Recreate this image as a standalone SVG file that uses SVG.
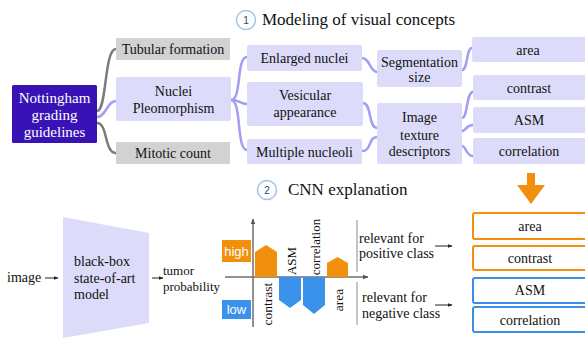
<svg xmlns="http://www.w3.org/2000/svg" width="585" height="342" viewBox="0 0 585 342">
<defs>
<marker id="ah" viewBox="0 0 10 10" refX="9" refY="5" markerWidth="5" markerHeight="5" orient="auto"><path d="M0,1 L10,5 L0,9 z" fill="#222"/></marker>
<marker id="ahg" viewBox="0 0 10 10" refX="9" refY="5" markerWidth="4" markerHeight="4" orient="auto"><path d="M0,1 L10,5 L0,9 z" fill="#555"/></marker>
</defs>
<style>
.t{font-family:'Liberation Serif','Times New Roman',Tinos,'DejaVu Serif',serif;fill:#111;font-size:14px}
.c{text-anchor:middle}
.lav{fill:#dcdcfa}
.gry{fill:#d2d2d2}
.cl{fill:none;stroke:#a69cf2;stroke-width:2.5}
.cg{fill:none;stroke:#7c7c7c;stroke-width:2.5}
.num{fill:#fff;stroke:#a5c4e6;stroke-width:1.5}
.nt{font-family:'Liberation Sans',Arial,sans-serif;font-size:10px;fill:#27457f;text-anchor:middle}
.ttl{font-family:'Liberation Serif','Times New Roman',Tinos,'DejaVu Serif',serif;font-size:17px;fill:#111}
.ax{stroke:#6e6e6e;stroke-width:1.5;fill:none}
.br{stroke:#8a8a8a;stroke-width:1;fill:none}
.or{fill:#f0900c}
.bl{fill:#3a92ea}
.ob{fill:#fff;stroke:#f0900c;stroke-width:2}
.bb{fill:#fff;stroke:#3a8ee8;stroke-width:2}
.hl{font-family:'Liberation Sans',Arial,sans-serif;font-size:13px;fill:#fff;text-anchor:middle}
.ar{stroke:#222;stroke-width:1;fill:none}
</style>

<g id="connectors">
<path class="cg" d="M97,111 C107,111 104,49 116,49"/>
<path class="cl" d="M97,117 C106,117 107,101 116,101"/>
<path class="cg" d="M97,123 C108,123 104,153 116,153"/>
<path class="cl" d="M231,100 C242,100 236,57 247,57"/>
<path class="cl" d="M231,100 C240,100 240,104 247,104"/>
<path class="cl" d="M231,100 C242,100 236,150 247,150"/>
<path class="cl" d="M362,58 C370,58 370,72 377,72"/>
<path class="cl" d="M363,103 C372,103 368,128 377,128"/>
<path class="cl" d="M362,151 C372,151 368,137 377,137"/>
<path class="cl" d="M462,70 C468,70 466,48 472,48"/>
<path class="cl" d="M462,118 C468,118 466,92 473,92"/>
<path class="cl" d="M462,131 C466,131 466,125 473,125"/>
<path class="cl" d="M462,146 C466,146 466,156 473,156"/>
<path class="ar" d="M45,278 L58,278" marker-end="url(#ah)"/>
<path class="ar" d="M152,278 L163,278" marker-end="url(#ah)"/>
<path class="ar" d="M435,246 L452,246" marker-end="url(#ah)"/>
<path class="ar" d="M435,305 L452,305" marker-end="url(#ah)"/>
</g>

<g id="title1">
<circle class="num" cx="246" cy="20" r="9.5"/>
<text class="nt" x="246" y="24">1</text>
<text class="ttl" x="262" y="25">Modeling of visual concepts</text>
</g>
<g id="title2">
<circle class="num" cx="267" cy="190" r="9.5"/>
<text class="nt" x="267" y="194">2</text>
<text class="ttl" x="288" y="195">CNN explanation</text>
</g>

<g id="nottingham">
<rect x="12" y="85" width="85" height="58" rx="1.5" fill="#3812b4"/>
<text class="t c" x="54.5" y="103" style="fill:#fff;font-size:15px">Nottingham</text>
<text class="t c" x="54.5" y="120" style="fill:#fff;font-size:15px">grading</text>
<text class="t c" x="54.5" y="137" style="fill:#fff;font-size:15px">guidelines</text>
</g>
<g id="tubular"><rect class="gry" x="116" y="38" width="114" height="22" rx="1"/><text class="t c" x="173" y="54">Tubular formation</text></g>
<g id="nuclei"><rect class="lav" x="116" y="77" width="115" height="44" rx="2"/><text class="t c" x="173.5" y="96">Nuclei</text><text class="t c" x="173.5" y="113">Pleomorphism</text></g>
<g id="mitotic"><rect class="gry" x="116" y="142" width="114" height="22" rx="1"/><text class="t c" x="173" y="158">Mitotic count</text></g>
<g id="enlarged"><rect class="lav" x="247" y="45" width="115" height="26" rx="2"/><text class="t c" x="304.5" y="63">Enlarged nuclei</text></g>
<g id="vesicular"><rect class="lav" x="247" y="82" width="116" height="44" rx="2"/><text class="t c" x="305" y="100">Vesicular</text><text class="t c" x="305" y="117">appearance</text></g>
<g id="multiple"><rect class="lav" x="247" y="139" width="115" height="25" rx="2"/><text class="t c" x="304.5" y="157">Multiple nucleoli</text></g>
<g id="segmentation"><rect class="lav" x="377" y="50" width="85" height="37" rx="2"/><text class="t c" x="419.5" y="67">Segmentation</text><text class="t c" x="419.5" y="82">size</text></g>
<g id="texture"><rect class="lav" x="377" y="103" width="85" height="61" rx="2"/><text class="t c" x="419.5" y="122">Image</text><text class="t c" x="419.5" y="140">texture</text><text class="t c" x="419.5" y="156">descriptors</text></g>
<g id="f-area"><rect class="lav" x="472" y="37" width="120" height="25" rx="2"/><text class="t c" x="528" y="55">area</text></g>
<g id="f-contrast"><rect class="lav" x="473" y="75" width="120" height="25" rx="2"/><text class="t c" x="529" y="93">contrast</text></g>
<g id="f-asm"><rect class="lav" x="473" y="107" width="120" height="26" rx="2"/><text class="t c" x="529" y="125">ASM</text></g>
<g id="f-correlation"><rect class="lav" x="473" y="138" width="120" height="26" rx="2"/><text class="t c" x="529" y="156">correlation</text></g>

<g id="image-label"><text class="t" x="7" y="282">image</text></g>
<g id="model">
<path d="M63,217 L149,233 L149,323 L63,338 Z" fill="#dcdcfa"/>
<text class="t" x="74" y="266">black-box</text>
<text class="t" x="74" y="283">state-of-art</text>
<text class="t" x="74" y="299">model</text>
</g>
<g id="tumor"><text class="t" x="163" y="275" style="font-size:13px">tumor</text><text class="t" x="163" y="291" style="font-size:13px">probability</text></g>

<g id="chart">
<path class="ax" d="M253,327 L253,219" marker-end="url(#ahg)"/>
<path class="ax" d="M225,277 L368,277" marker-end="url(#ahg)"/>
<rect class="or" x="222" y="240" width="29" height="22"/>
<text class="hl" x="236.5" y="256">high</text>
<rect class="bl" x="222" y="300" width="29" height="19"/>
<text class="hl" x="236.5" y="314">low</text>
<path class="or" d="M255,277 L255,252 L266,245 L277,252 L277,277 Z"/>
<path class="bl" d="M279,277 L279,300 L290,308 L301,300 L301,277 Z"/>
<path class="bl" d="M303,277 L303,305 L314,314 L325,305 L325,277 Z"/>
<path class="or" d="M327,277 L327,263 L337.5,257 L348,263 L348,277 Z"/>
<text class="t c" transform="translate(272,304) rotate(-90)" style="font-size:13.5px">contrast</text>
<text class="t c" transform="translate(296,261) rotate(-90)" style="font-size:13px">ASM</text>
<text class="t c" transform="translate(320,247) rotate(-90)" style="font-size:13px">correlation</text>
<text class="t c" transform="translate(343,300) rotate(-90)" style="font-size:13.5px">area</text>
<path class="br" d="M357,220 L357,272 M357,282 L357,325"/>
</g>
<g id="relevant-pos"><text class="t" x="359" y="243">relevant for</text><text class="t" x="359" y="258">positive class</text></g>
<g id="relevant-neg"><text class="t" x="362" y="302">relevant for</text><text class="t" x="362" y="318">negative class</text></g>

<g id="down-arrow"><path class="or" d="M527,173 L535,173 L535,185 L545,185 L531,204 L517,185 L527,185 Z"/></g>
<g id="o-area"><rect class="ob" x="473" y="213" width="120" height="26" rx="2"/><text class="t c" x="530" y="231">area</text></g>
<g id="o-contrast"><rect class="ob" x="473" y="246" width="120" height="24" rx="2"/><text class="t c" x="530" y="263">contrast</text></g>
<g id="o-asm"><rect class="bb" x="473" y="278" width="120" height="25" rx="2"/><text class="t c" x="530" y="295">ASM</text></g>
<g id="o-correlation"><rect class="bb" x="473" y="307" width="120" height="25" rx="2"/><text class="t c" x="530" y="325">correlation</text></g>
</svg>
